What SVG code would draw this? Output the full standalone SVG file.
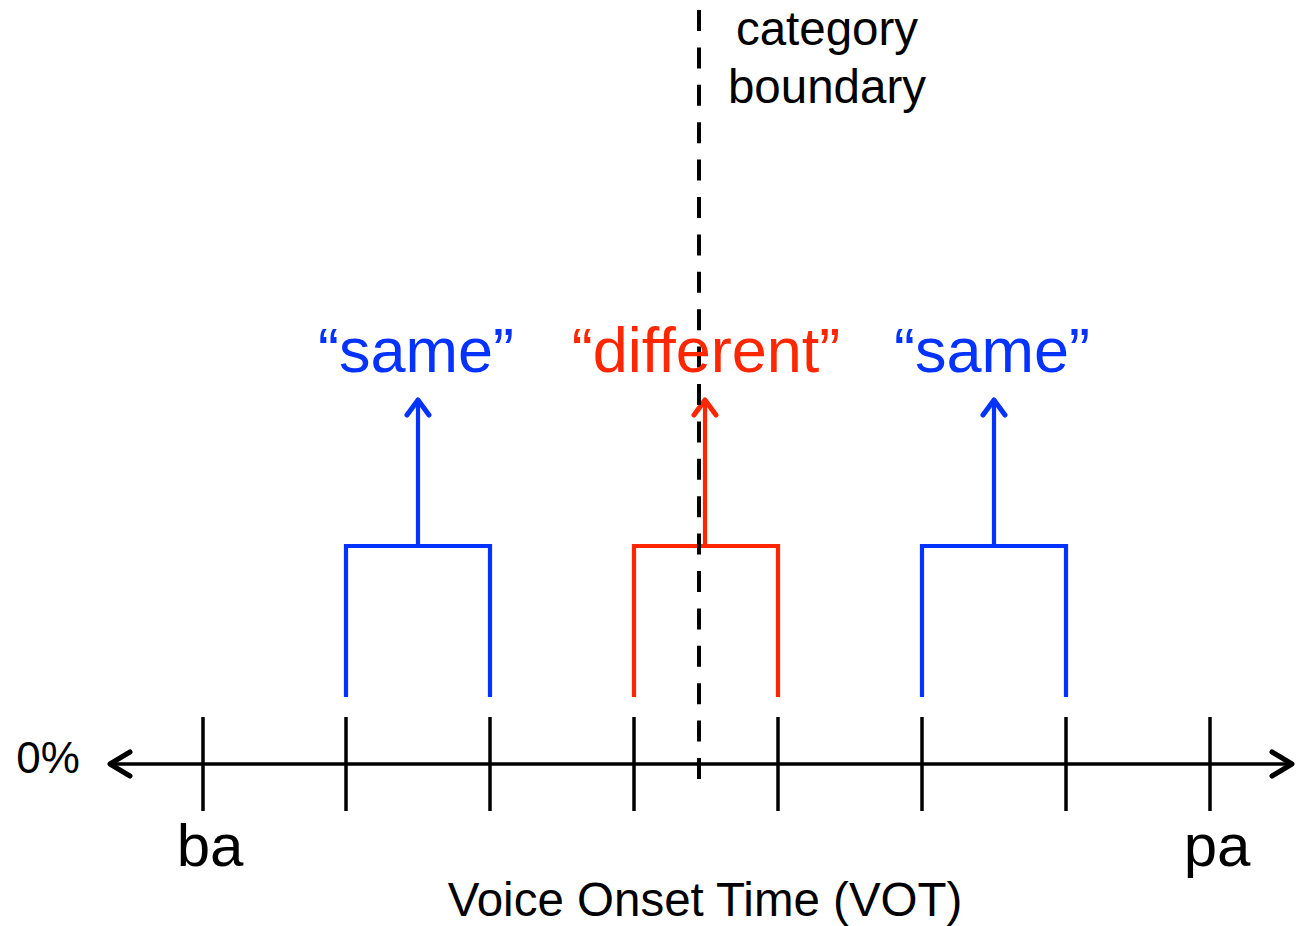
<svg xmlns="http://www.w3.org/2000/svg" width="1296" height="926" viewBox="0 0 1296 926">
  <style>
    text { font-family: "Liberation Sans", Arial, sans-serif; text-anchor: middle; }
    .axis { stroke: #000; stroke-width: 3.5; fill: none; }
    .tick { stroke: #000; stroke-width: 3.5; }
    .same { stroke: #0433FF; stroke-width: 4.2; fill: none; }
    .diff { stroke: #FF2600; stroke-width: 4.2; fill: none; }
    .head { stroke-linecap: round; stroke-linejoin: round; stroke-width: 5; }
    .lblSame { fill: #0433FF; font-size: 63px; }
    .lblDiff { fill: #FF2600; font-size: 63px; }
    .black { fill: #000; }
  </style>

  <!-- horizontal VOT axis with open arrowheads at both ends -->
  <g id="axis">
    <line class="axis" x1="110" y1="764" x2="1292" y2="764"/>
    <polyline class="axis head" points="130,752 110,764 130,776"/>
    <polyline class="axis head" points="1272,752 1292,764 1272,776"/>
    <g id="ticks">
      <line class="tick" x1="203" y1="717" x2="203" y2="811"/>
      <line class="tick" x1="346" y1="717" x2="346" y2="811"/>
      <line class="tick" x1="490" y1="717" x2="490" y2="811"/>
      <line class="tick" x1="634" y1="717" x2="634" y2="811"/>
      <line class="tick" x1="778" y1="717" x2="778" y2="811"/>
      <line class="tick" x1="922" y1="717" x2="922" y2="811"/>
      <line class="tick" x1="1066" y1="717" x2="1066" y2="811"/>
      <line class="tick" x1="1210" y1="717" x2="1210" y2="811"/>
    </g>
    <text class="black" x="48" y="773" font-size="44">0%</text>
    <text class="black" x="210" y="866" font-size="60">ba</text>
    <text class="black" x="1217" y="866" font-size="60">pa</text>
    <text class="black" x="705" y="916" font-size="47.5">Voice Onset Time (VOT)</text>
  </g>

  <!-- pair comparisons -->
  <g id="pair-left">
    <polyline class="same" points="346,697 346,546 490,546 490,697"/>
    <line class="same" x1="418" y1="546" x2="418" y2="400"/>
    <polyline class="same head" points="407,415 418,400 429,415"/>
    <text class="lblSame" x="416" y="372">“same”</text>
  </g>

  <g id="pair-middle">
    <polyline class="diff" points="634,697 634,546 778,546 778,697"/>
    <line class="diff" x1="705" y1="546" x2="705" y2="400"/>
    <polyline class="diff head" points="694,415 705,400 716,415"/>
  </g>

  <g id="pair-right">
    <polyline class="same" points="922,697 922,546 1066,546 1066,697"/>
    <line class="same" x1="994" y1="546" x2="994" y2="400"/>
    <polyline class="same head" points="983,415 994,400 1005,415"/>
    <text class="lblSame" x="992" y="372">“same”</text>
  </g>

  <!-- category boundary -->
  <g id="boundary">
    <line x1="699" y1="10" x2="699" y2="779" stroke="#000" stroke-width="4" stroke-dasharray="21 16.4"/>
    <text class="black" x="827" y="45" font-size="47.5">category</text>
    <text class="black" x="827" y="103" font-size="47.5">boundary</text>
  </g>

  <text class="lblDiff" x="706" y="372">“different”</text>
</svg>
